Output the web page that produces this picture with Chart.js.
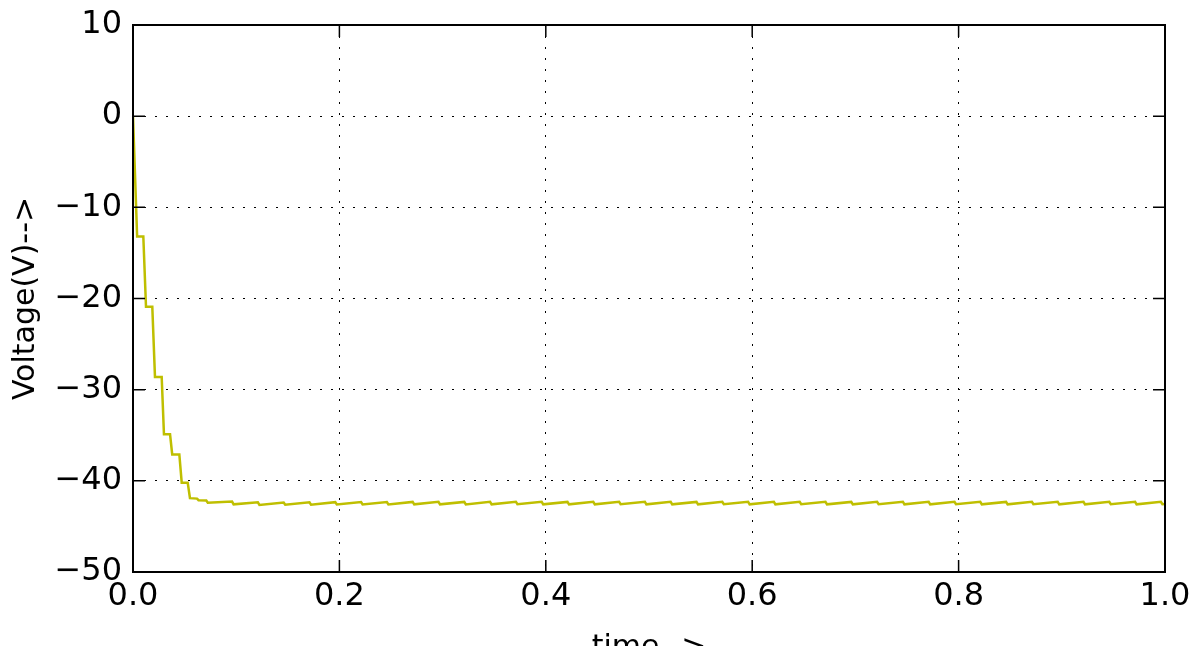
<!DOCTYPE html>
<html>
<head>
<meta charset="utf-8">
<script src="https://cdn.jsdelivr.net/npm/chart.js@4.4.1/dist/chart.umd.min.js"></script>
<style>
    html, body { margin: 0; padding: 0; background: #fff; overflow: hidden; }
    #wrap { position: relative; width: 1197px; height: 680px; }
</style>
</head>
<body>
<div id="wrap"><canvas id="voltageChart"></canvas></div>
<script>
// Time axis (s) and voltage (V)
const times = [
    0, 0.004, 0.010, 0.0126, 0.0187, 0.0213, 0.0278, 0.030, 0.0359, 0.038,
    0.0449, 0.0472, 0.053, 0.0552, 0.062, 0.0635, 0.071, 0.0725,
    0.096, 0.0975, 0.121, 0.1225, 0.146, 0.1475, 0.171, 0.1725, 0.196, 0.1975,
    0.221, 0.2225, 0.246, 0.2475, 0.271, 0.2725, 0.296, 0.2975, 0.321, 0.3225,
    0.346, 0.3475, 0.371, 0.3725, 0.396, 0.3975, 0.421, 0.4225, 0.446, 0.4475,
    0.471, 0.4725, 0.496, 0.4975, 0.521, 0.5225, 0.546, 0.5475, 0.571, 0.5725,
    0.596, 0.5975, 0.621, 0.6225, 0.646, 0.6475, 0.671, 0.6725, 0.696, 0.6975,
    0.721, 0.7225, 0.746, 0.7475, 0.771, 0.7725, 0.796, 0.7975, 0.821, 0.8225,
    0.846, 0.8475, 0.871, 0.8725, 0.896, 0.8975, 0.921, 0.9225, 0.946, 0.9475,
    0.971, 0.9725, 0.996, 0.9975, 1.0
];
const volts = [
    0, -13.2, -13.2, -20.9, -20.9, -28.6, -28.6, -34.9, -34.9, -37.1,
    -37.1, -40.2, -40.2, -41.9, -41.95, -42.12, -42.15, -42.40,
    -42.28, -42.58, -42.36, -42.64, -42.38, -42.62, -42.36, -42.62, -42.34, -42.60,
    -42.33, -42.60, -42.32, -42.59, -42.31, -42.58, -42.30, -42.58, -42.31, -42.59,
    -42.30, -42.58, -42.29, -42.57, -42.30, -42.58, -42.31, -42.58, -42.30, -42.58,
    -42.29, -42.57, -42.30, -42.58, -42.30, -42.58, -42.31, -42.58, -42.30, -42.57,
    -42.29, -42.58, -42.30, -42.58, -42.30, -42.57, -42.30, -42.58, -42.31, -42.58,
    -42.30, -42.57, -42.29, -42.58, -42.30, -42.58, -42.30, -42.57, -42.30, -42.58,
    -42.31, -42.58, -42.30, -42.57, -42.29, -42.58, -42.30, -42.58, -42.30, -42.57,
    -42.30, -42.58, -42.30, -42.57, -42.54
];
const xTicks = [0, 0.2, 0.4, 0.6, 0.8, 1.0];
const yTicks = [-50, -40, -30, -20, -10, 0, 10];

// inward tick marks on all four sides plus the closed frame
const frameTicks = {
    id: 'frameTicks',
    afterDraw(chart) {
        const { ctx, chartArea: a, scales: { x, y } } = chart;
        const len = 12;
        ctx.save();
        ctx.strokeStyle = '#000';
        ctx.lineWidth = 1.5;
        ctx.beginPath();
        xTicks.forEach(function(v) {
            const px = x.getPixelForValue(v);
            ctx.moveTo(px, a.bottom); ctx.lineTo(px, a.bottom - len);
            ctx.moveTo(px, a.top); ctx.lineTo(px, a.top + len);
        });
        yTicks.forEach(function(v) {
            const py = y.getPixelForValue(v);
            ctx.moveTo(a.left, py); ctx.lineTo(a.left + len, py);
            ctx.moveTo(a.right, py); ctx.lineTo(a.right - len, py);
        });
        ctx.stroke();
        ctx.lineWidth = 2;
        ctx.strokeRect(a.left, a.top, a.right - a.left, a.bottom - a.top);
        ctx.restore();
    }
};

Chart.defaults.font.family = "'DejaVu Sans', sans-serif";
Chart.defaults.color = '#000';

new Chart(document.getElementById('voltageChart'), {
    type: 'line',
    data: {
        datasets: [{
            data: times.map(function(t, i) { return { x: t, y: volts[i] }; }),
            borderColor: '#bfbf00',
            borderWidth: 2.5,
            pointRadius: 0,
            tension: 0,
            fill: false
        }]
    },
    plugins: [frameTicks],
    options: {
        responsive: true,
        maintainAspectRatio: false,
        devicePixelRatio: 1,
        animation: false,
        layout: { padding: { top: 25, right: 32, left: 0, bottom: 0 } },
        plugins: { legend: { display: false }, tooltip: { enabled: false } },
        scales: {
            x: {
                type: 'linear',
                min: 0,
                max: 1,
                afterBuildTicks: function(scale) {
                    scale.ticks = xTicks.map(function(v) { return { value: v }; });
                },
                afterFit: function(scale) { scale.height = 108; },
                ticks: {
                    font: { size: 32 },
                    padding: 5,
                    maxRotation: 0,
                    callback: function(value) { return value.toFixed(1); }
                },
                grid: {
                    color: '#000',
                    lineWidth: 1,
                    drawTicks: false
                },
                border: { display: false, dash: [2, 9] },
                title: {
                    display: true,
                    text: 'time-->',
                    font: { size: 30 },
                    padding: { top: 0, bottom: 14 }
                }
            },
            y: {
                min: -50,
                max: 10,
                afterBuildTicks: function(scale) {
                    scale.ticks = yTicks.map(function(v) { return { value: v }; });
                },
                afterFit: function(scale) {
                    scale.width = 133;
                    scale.paddingTop = 0;
                    scale.paddingBottom = 0;
                },
                ticks: {
                    font: { size: 32 },
                    padding: 11,
                    callback: function(value) {
                        return value < 0 ? '\u2212' + Math.abs(value) : String(value);
                    }
                },
                grid: {
                    color: '#000',
                    lineWidth: 1,
                    drawTicks: false
                },
                border: { display: false, dash: [2, 9] },
                title: {
                    display: true,
                    text: 'Voltage(V)-->',
                    font: { size: 30 },
                    padding: { top: 8, bottom: 0 }
                }
            }
        }
    }
});
</script>
</body>
</html>
